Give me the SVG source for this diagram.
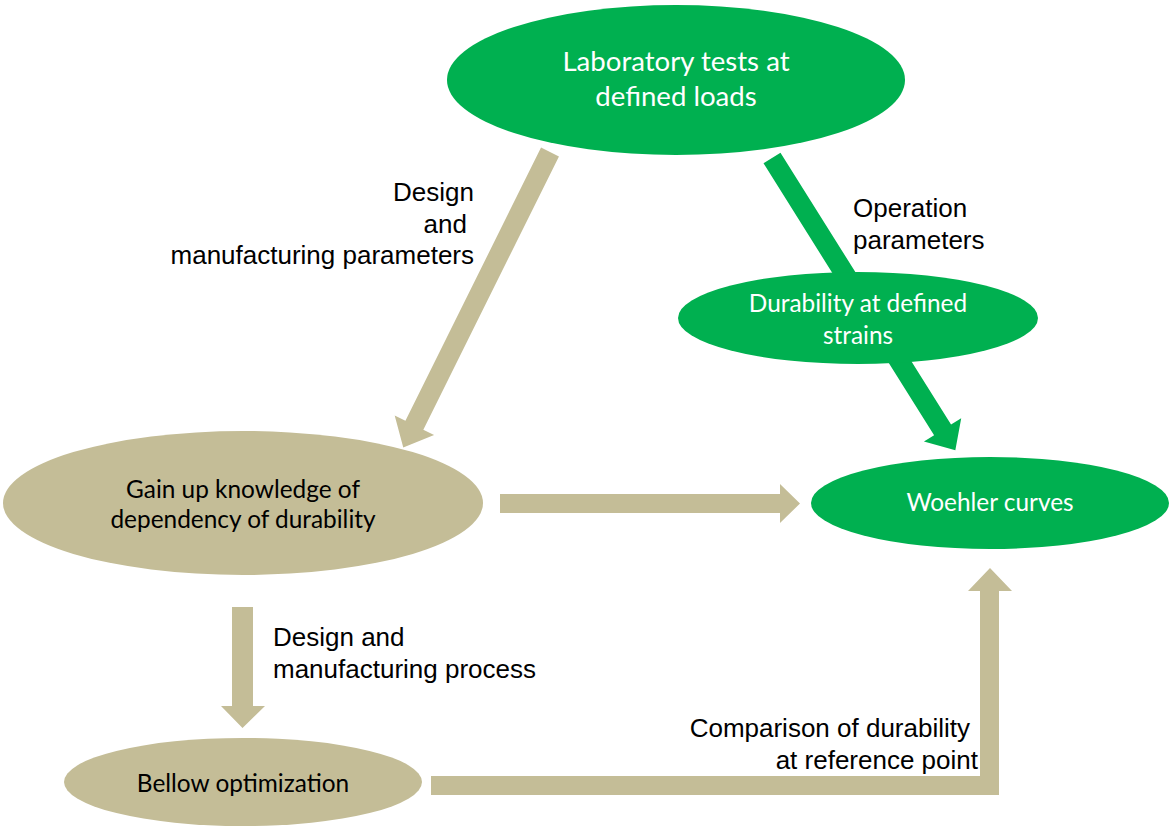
<svg xmlns="http://www.w3.org/2000/svg" width="1169" height="826" viewBox="0 0 1169 826">
<style>
.green{fill:#00B050}
.tan{fill:#C4BD97}
.nt{font-family:Lato,"Open Sans","Liberation Sans",sans-serif;fill:#fff;text-anchor:middle;font-size:24.4px}
.dk{fill:#000}
.lb{font-family:"Liberation Sans",Arial,sans-serif;font-size:26px;fill:#000}
</style>
<rect width="1169" height="826" fill="#fff"/>
<g id="connectors">
<polygon class="tan" points="0,-10 305,-10 305,-22 330,0 305,22 305,10 0,10" transform="translate(550,152) rotate(116.4)"/>
<polygon class="green" points="0,-10 321,-10 321,-22 345,0 321,22 321,10 0,10" transform="translate(772,158) rotate(57.9)"/>
<polygon class="tan" points="500,494 780,494 780,484 800,503.5 780,523 780,513 500,513"/>
<polygon class="tan" points="232,607 253,607 253,706 265,706 242.5,728 221,706 232,706"/>
<polygon class="tan" points="431,776 980,776 980,591 968,591 990,568 1012,591 999,591 999,795 431,795"/>
</g>
<g id="labels">
<text class="lb" x="474" y="201" text-anchor="end">Design</text>
<text class="lb" x="467" y="233" text-anchor="end">and</text>
<text class="lb" x="474" y="264" text-anchor="end">manufacturing parameters</text>
<text class="lb" x="853" y="217">Operation</text>
<text class="lb" x="853" y="249">parameters</text>
<text class="lb" x="273" y="646">Design and</text>
<text class="lb" x="273" y="678">manufacturing process</text>
<text class="lb" x="970" y="737" text-anchor="end">Comparison of durability</text>
<text class="lb" x="978" y="769" text-anchor="end">at reference point</text>
</g>
<g id="lab">
<ellipse class="green" cx="676" cy="80" rx="229" ry="75"/>
<text class="nt" x="676" y="71" style="font-size:27.6px">Laboratory tests at</text>
<text class="nt" x="676" y="106" style="font-size:27.6px">defined loads</text>
</g>
<g id="durability">
<ellipse class="green" cx="858" cy="318" rx="180" ry="46"/>
<text class="nt" x="858" y="312">Durability at defined</text>
<text class="nt" x="858" y="344">strains</text>
</g>
<g id="gain">
<ellipse class="tan" cx="243" cy="503" rx="240" ry="72"/>
<text class="nt dk" x="243" y="498">Gain up knowledge of</text>
<text class="nt dk" x="243" y="528">dependency of durability</text>
</g>
<g id="woehler">
<ellipse class="green" cx="990" cy="503" rx="179" ry="46"/>
<text class="nt" x="990" y="511">Woehler curves</text>
</g>
<g id="bellow">
<ellipse class="tan" cx="243" cy="782" rx="179" ry="44"/>
<text class="nt dk" x="243" y="792">Bellow optimization</text>
</g>
</svg>
